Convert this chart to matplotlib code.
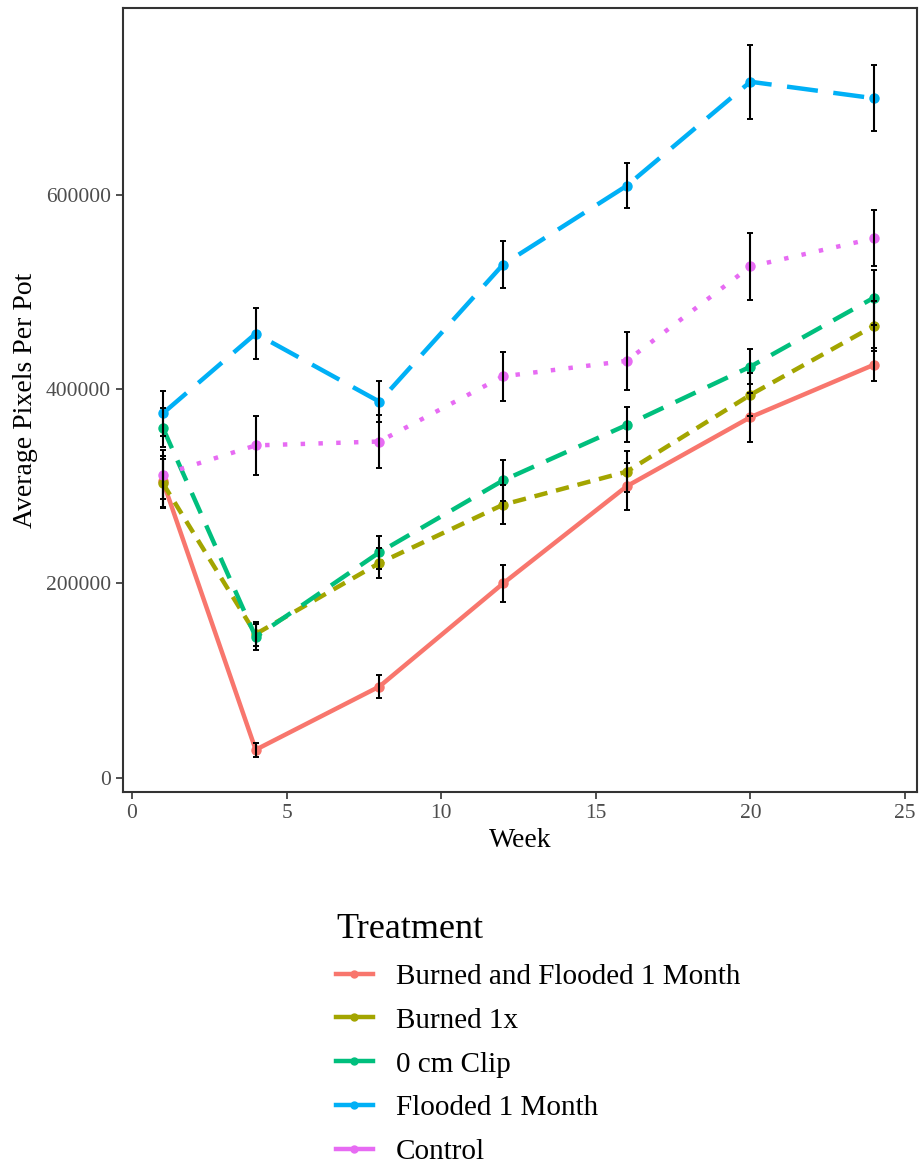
import matplotlib.pyplot as plt
from matplotlib.lines import Line2D

plt.rcParams['font.family'] = ['Liberation Serif', 'DejaVu Serif']

# sampling weeks
weeks = [1, 4, 8, 12, 16, 20, 24]

treatments = ["Burned and Flooded 1 Month", "Burned 1x", "0 cm Clip",
              "Flooded 1 Month", "Control"]

# mean pixel counts per pot for each treatment
burned_flooded = [305000, 29000, 94000, 200000, 300000, 371000, 425000]
burned_1x = [303000, 148000, 221000, 281000, 315000, 394000, 465000]
clip_0cm = [360000, 145000, 232000, 306000, 363000, 423000, 494000]
flooded = [375000, 457000, 387000, 528000, 609000, 716000, 699000]
control = [312000, 342000, 346000, 413000, 429000, 526000, 555000]

# standard errors
burned_flooded_se = [26000, 7000, 12000, 19000, 24000, 25000, 17000]
burned_1x_se = [25000, 12000, 15000, 20000, 21000, 22000, 26000]
clip_0cm_se = [20000, 13000, 17000, 21000, 18000, 18000, 28000]
flooded_se = [23000, 26000, 21000, 24000, 23000, 38000, 34000]
control_se = [25000, 30000, 27000, 25000, 30000, 34000, 29000]

means = [burned_flooded, burned_1x, clip_0cm, flooded, control]
errs = [burned_flooded_se, burned_1x_se, clip_0cm_se, flooded_se, control_se]
colors = ["#F8766D", "#A3A500", "#00BF7D", "#00B0F6", "#E76BF3"]
dashes = [None, (3, 2), (5, 3), (7, 3.5), (1, 3)]

fig = plt.figure(figsize=(9.21, 11.65), dpi=100)
ax = fig.add_axes([0.1336, 0.3202, 0.8621, 0.6729])

for m, e, c, d in zip(means, errs, colors, dashes):
    line, = ax.plot(weeks, m, color=c, lw=3.2, marker='o', ms=6.5, zorder=2)
    if d is not None:
        line.set_dashes(d)
    ax.errorbar(weeks, m, yerr=e, fmt='none', ecolor='black', elinewidth=1.5,
                capsize=2.5, capthick=1.4, zorder=3)

ax.set_xlim(-0.29, 25.39)
ax.set_ylim(-14400, 791800)
ax.set_xticks([0, 5, 10, 15, 20, 25])
ax.set_yticks([0, 200000, 400000, 600000])
ax.set_yticklabels(["0", "200000", "400000", "600000"])
ax.tick_params(labelsize=15.5, labelcolor='#4D4D4D', color='#333333',
               length=5, width=1.2)
for s in ax.spines.values():
    s.set_color('#333333')
    s.set_linewidth(1.5)

ax.set_xlabel("Week", fontsize=20, labelpad=4)
ax.set_ylabel("Average Pixels Per Pot", fontsize=20, labelpad=6)

handles = [Line2D([0], [0], color=c, lw=3.2, marker='o', ms=5) for c in colors]
leg = fig.legend(handles, treatments, loc='upper left',
                 bbox_to_anchor=(0.3365, 0.239), frameon=False,
                 fontsize=21, title="Treatment", title_fontsize=26,
                 handlelength=1.25, handletextpad=0.8, labelspacing=0.6,
                 alignment='left')

fig.savefig("out.png", dpi=100)
